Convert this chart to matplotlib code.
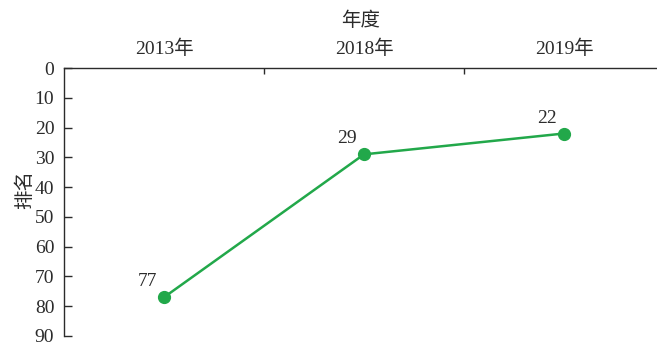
import matplotlib
matplotlib.use("Agg")
import matplotlib.pyplot as plt
import numpy as np

# data
years = ["2013年", "2018年", "2019年"]
ranks = [77, 29, 22]
y_ticks = [0, 10, 20, 30, 40, 50, 60, 70, 80, 90]

line_color = "#22a84a"
text_color = "#2b2b2b"

plt.rcParams['font.family'] = ['Liberation Serif', 'Noto Sans CJK SC']
plt.rcParams['font.size'] = 14

fig = plt.figure(figsize=(6.57, 3.48), dpi=100)
# axes: left 64px, top 68px, bottom 336px, right edge at figure edge
ax = fig.add_axes([64 / 657, 1 - 336 / 348, 1 - 64 / 657, (336 - 68) / 348])

x = np.arange(len(years))
ax.plot(x, ranks, color=line_color, linewidth=1.8, marker='o', markersize=8.5, zorder=3,
        clip_on=False)
for xi, r in zip(x, ranks):
    ax.annotate(str(r), (xi, r), xytext=(-12, 5), textcoords='offset points',
                ha='center', va='bottom', fontsize=14, color=text_color)

ax.set_xlim(-0.5, 2.465)
ax.set_ylim(90, 0)
ax.set_yticks(y_ticks)

ax.xaxis.tick_top()
ax.xaxis.set_label_position('top')
ax.set_xticks(x)
ax.set_xticklabels(years)
ax.set_xticks([0.5, 1.5], minor=True)
ax.tick_params(axis='x', which='major', length=0, pad=7, colors=text_color, labelsize=14)
ax.tick_params(axis='x', which='minor', length=4.5, direction='in', top=True, bottom=False,
               color=text_color, width=1)
ax.tick_params(axis='y', which='major', length=6, direction='in', pad=7, colors=text_color,
               labelsize=14, width=1)
ax.set_xlabel("年度", fontsize=14, color=text_color, labelpad=10)
ax.set_ylabel("排名", fontsize=14, color=text_color)
ax.yaxis.set_label_coords(-0.051, 0.545)

for side in ['right', 'bottom']:
    ax.spines[side].set_visible(False)
for side in ['left', 'top']:
    ax.spines[side].set_color(text_color)
    ax.spines[side].set_linewidth(1)

fig.savefig("out.png", dpi=100)
